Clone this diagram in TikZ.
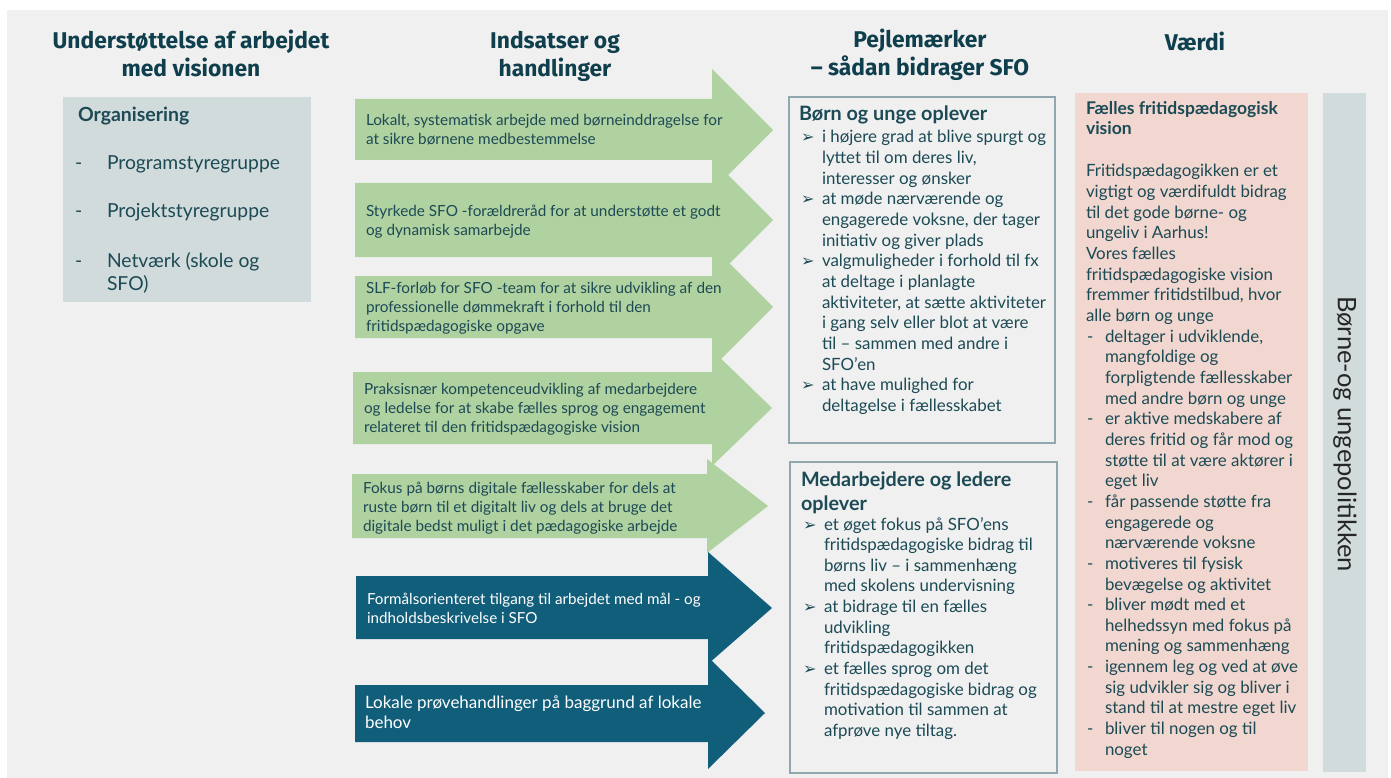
\documentclass[tikz,border=0pt]{standalone}
\usepackage{fontspec}
\setmainfont{Lato}
\newfontfamily\headfont{Fira Sans}
\newfontfamily\symfont{DejaVu Sans}
\definecolor{bg}{HTML}{F0F0F0}
\definecolor{headc}{HTML}{0F3F4C}
\definecolor{txtc}{HTML}{1C4A55}
\definecolor{greenc}{HTML}{B0D1A0}
\definecolor{darkc}{HTML}{115E7B}
\definecolor{orgc}{HTML}{D1DBDB}
\definecolor{pinkc}{HTML}{F1D7CF}
\definecolor{framec}{HTML}{8FA7AD}
\newcommand\tb[2]{\parbox[t]{#1}{\raggedright\parindent=0pt\parskip=0pt #2}}
\newcommand\tc[2]{\parbox[t]{#1}{\centering #2}}
\newcommand\bul[1]{{\let\\\newline\hangindent=21pt\hangafter=1\noindent\makebox[21pt][l]{\symfont\fontsize{16}{16}\selectfont ➢}#1\par}}
\newcommand\dsh[1]{{\let\\\newline\hangindent=19pt\hangafter=1\noindent\makebox[19pt][l]{\hspace{1pt}-}#1\par}}
\newcommand\arrowshape[9]{% color, x0, xb, ytop, ybot, htop, tipx, tipy, hbot
  \fill[#1] (#2,#4) -- (#3,#4) -- (#3,#6) -- (#7,#8) -- (#3,#9) -- (#3,#5) -- (#2,#5) -- cycle;}
\tikzset{
  lines/.style={anchor=base west, inner sep=0pt, outer sep=0pt, text=txtc},
  heading/.style={anchor=base, inner sep=0pt, outer sep=0pt, text=headc,
    font=\headfont\bfseries\fontsize{22.8}{28}\selectfont},
  arrowtext/.style={lines, font=\fontsize{15.3}{19.3}\selectfont},
  boxtext/.style={lines, font=\fontsize{16.9}{20.65}\selectfont},
}
\begin{document}
\begin{tikzpicture}[x=1pt, y=-1pt]
\useasboundingbox (0,0) rectangle (1391,778);
\fill[white] (0,0) rectangle (1391,778);
\fill[bg] (7,10) rectangle (1388,778);

% headings
\node[heading] (h1) at (191,49) {\tc{320pt}{Understøttelse af arbejdet\\med visionen}};
\node[heading] (h2) at (555,49) {\tc{320pt}{Indsatser og\\handlinger}};
\node[heading] (h3) at (920,48) {\tc{320pt}{Pejlemærker\\– sådan bidrager SFO}};
\node[heading] (h4) at (1195,51) {Værdi};

% organisation box
\fill[orgc] (63,97) rectangle (311,302);
\node[lines, font=\bfseries\fontsize{19.5}{20}\selectfont] (org) at (78,122) {Organisering};
\node[lines, font=\fontsize{19.3}{23}\selectfont] (o1d) at (75,170) {-};
\node[lines, font=\fontsize{19.3}{23}\selectfont] (o1) at (107,170) {Programstyregruppe};
\node[lines, font=\fontsize{19.3}{23}\selectfont] (o2d) at (75,218) {-};
\node[lines, font=\fontsize{19.3}{23}\selectfont] (o2) at (107,218) {Projektstyregruppe};
\node[lines, font=\fontsize{19.3}{23}\selectfont] (o3d) at (75,267) {-};
\node[lines, font=\fontsize{19.3}{23.5}\selectfont] (o3) at (107,267) {\tb{200pt}{Netværk (skole og\\SFO)}};

% arrows
\arrowshape{greenc}{355}{712}{99}{160}{69}{773}{130}{191}
\arrowshape{greenc}{355}{712}{183}{257}{159}{773}{220}{281}
\arrowshape{greenc}{355}{712}{276}{338}{246}{773}{307}{368}
\arrowshape{greenc}{353}{712}{372}{444}{350}{772}{408}{466}
\arrowshape{greenc}{352}{707}{474}{538}{459}{768}{506}{553}
\arrowshape{darkc}{356}{708}{576}{639}{552}{772}{608}{664}
\arrowshape{darkc}{355}{708}{685}{742}{657}{765}{713}{769}

\node[arrowtext] (a1) at (366,125.5) {\tb{400pt}{Lokalt, systematisk arbejde med børneinddragelse for\\at sikre børnene medbestemmelse}};
\node[arrowtext] (a2) at (366,216) {\tb{400pt}{Styrkede SFO -forældreråd for at understøtte et godt\\og dynamisk samarbejde}};
\node[arrowtext] (a3) at (366,293) {\tb{400pt}{SLF-forløb for SFO -team for at sikre udvikling af den\\professionelle dømmekraft i forhold til den\\fritidspædagogiske opgave}};
\node[arrowtext] (a4) at (364,394) {\tb{400pt}{Praksisnær kompetenceudvikling af medarbejdere\\og ledelse for at skabe fælles sprog og engagement\\relateret til den fritidspædagogiske vision}};
\node[arrowtext] (a5) at (363,493) {\tb{400pt}{Fokus på børns digitale fællesskaber for dels at\\ruste børn til et digitalt liv og dels at bruge det\\digitale bedst muligt i det pædagogiske arbejde}};
\node[arrowtext, text=white, font=\fontsize{15.2}{19.3}\selectfont] (a6) at (367,604) {\tb{400pt}{Formålsorienteret tilgang til arbejdet med mål - og\\indholdsbeskrivelse i SFO}};
\node[arrowtext, text=white, font=\fontsize{17}{20}\selectfont] (a7) at (365,708) {\tb{400pt}{Lokale prøvehandlinger på baggrund af lokale\\behov}};

% middle boxes
\draw[framec, line width=1.2pt] (789,97) rectangle (1055,443);
\node[lines, font=\bfseries\fontsize{19.8}{20}\selectfont] (b1t) at (799,121) {Børn og unge oplever};
\node[boxtext] (b1) at (801,143) {\tb{250pt}{%
\bul{i højere grad at blive spurgt og\\lyttet til om deres liv,\\interesser og ønsker}
\bul{at møde nærværende og\\engagerede voksne, der tager\\initiativ og giver plads}
\bul{valgmuligheder i forhold til fx\\at deltage i planlagte\\aktiviteter, at sætte aktiviteter\\i gang selv eller blot at være\\til – sammen med andre i\\SFO’en}
\bul{at have mulighed for\\deltagelse i fællesskabet}}};

\draw[framec, line width=1.2pt] (790,462) rectangle (1057,773);
\node[lines, font=\bfseries\fontsize{19.8}{24}\selectfont] (b2t) at (801,486) {\tb{250pt}{Medarbejdere og ledere\\oplever}};
\node[boxtext] (b2) at (803,530) {\tb{250pt}{%
\bul{et øget fokus på SFO’ens\\fritidspædagogiske bidrag til\\børns liv – i sammenhæng\\med skolens undervisning}
\bul{at bidrage til en fælles\\udvikling\\fritidspædagogikken}
\bul{et fælles sprog om det\\fritidspædagogiske bidrag og\\motivation til sammen at\\afprøve nye tiltag.}}};

% value box
\fill[pinkc] (1075,93) rectangle (1308,771);
\node[lines, font=\bfseries\fontsize{17.5}{20}\selectfont] (vt) at (1086,115) {\tb{220pt}{Fælles fritidspædagogisk\\vision}};
\node[boxtext] (vb) at (1086,177) {\tb{220pt}{%
Fritidspædagogikken er et\\vigtigt og værdifuldt bidrag\\til det gode børne- og\\ungeliv i Aarhus!\\Vores fælles\\fritidspædagogiske vision\\fremmer fritidstilbud, hvor\\alle børn og unge\par
\dsh{deltager i udviklende,\\mangfoldige og\\forpligtende fællesskaber\\med andre børn og unge}
\dsh{er aktive medskabere af\\deres fritid og får mod og\\støtte til at være aktører i\\eget liv}
\dsh{får passende støtte fra\\engagerede og\\nærværende voksne}
\dsh{motiveres til fysisk\\bevægelse og aktivitet}
\dsh{bliver mødt med et\\helhedssyn med fokus på\\mening og sammenhæng}
\dsh{igennem leg og ved at øve\\sig udvikler sig og bliver i\\stand til at mestre eget liv}
\dsh{bliver til nogen og til\\noget}}};

% policy bar
\fill[orgc] (1323,93) rectangle (1366,772);
\node[rotate=-90, inner sep=0pt, text=black!85, font=\fontsize{25.5}{26}\selectfont] (pol) at (1345,434) {Børne-og ungepolitikken};
\end{tikzpicture}
\end{document}
